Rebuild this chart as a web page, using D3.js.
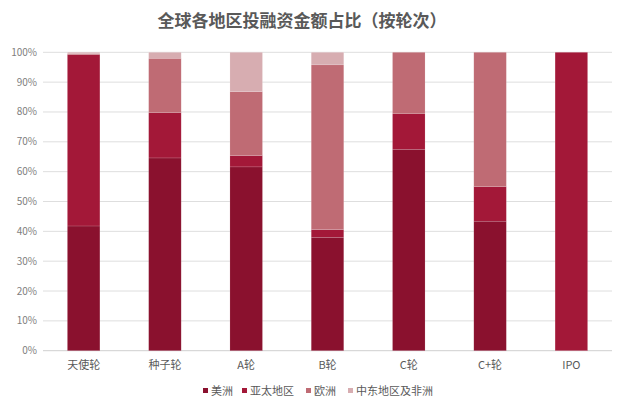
<!DOCTYPE html>
<html><head><meta charset="utf-8">
<script src="https://cdn.jsdelivr.net/npm/d3@7"></script>
<style>body{margin:0;background:#fff}svg{display:block}</style>
</head><body>
<svg id="c" width="640" height="413"></svg>
<script>
const categories = ["天使轮","种子轮","A轮","B轮","C轮","C+轮","IPO"];
const seriesNames = ["美洲","亚太地区","欧洲","中东地区及非洲"];
const americas = [41.8, 64.6, 61.6, 38.0, 67.5, 43.4, 0];
const asiaPacific = [57.4, 15.2, 3.8, 2.6, 11.9, 11.6, 100];
const europe = [0.3, 18.2, 21.4, 55.2, 20.6, 45.0, 0];
const middleEastAfrica = [0.5, 2.0, 13.2, 4.2, 0, 0, 0];
const yTicks = [0,10,20,30,40,50,60,70,80,90,100];
const colors = ["#8a112e","#a31838","#bf6b74","#d7adb1"];

const svg = d3.select("#c");
const font = "'Noto Sans CJK SC','Noto Sans',sans-serif";
const m = {l:43, r:28, t:52.3, b:62.3};
const W = 640, H = 413;
const x = d3.scaleBand().domain(categories).range([m.l, W-m.r]).paddingInner(0.6).paddingOuter(0.3);
const y = d3.scaleLinear().domain([0,100]).range([H-m.b, m.t]);

const table = categories.map((c,i)=>({cat:c, "美洲":americas[i], "亚太地区":asiaPacific[i], "欧洲":europe[i], "中东地区及非洲":middleEastAfrica[i]}));
const stack = d3.stack().keys(seriesNames)(table);

// grid
svg.append("g").selectAll("line").data(yTicks).join("line")
  .attr("x1", m.l).attr("x2", W-m.r)
  .attr("y1", d=>y(d)).attr("y2", d=>y(d))
  .attr("stroke", d=>d===0?"#cfcfcf":"#dedede").attr("stroke-width", 1);

// y labels
svg.append("g").selectAll("text").data(yTicks).join("text")
  .attr("x", 37).attr("y", d=>y(d)).attr("dy","0.35em")
  .attr("text-anchor","end").attr("font-family",font).attr("font-size",10)
  .attr("fill","#808080").text(d=>d+"%");

// bars
svg.append("g").selectAll("g").data(stack).join("g")
  .attr("fill",(d,i)=>colors[i])
  .selectAll("rect").data(d=>d).join("rect")
  .attr("x", d=>x(d.data.cat)).attr("width", x.bandwidth())
  .attr("y", d=>y(d[1])).attr("height", d=>Math.max(0, y(d[0])-y(d[1])))
  .attr("stroke","rgba(255,255,255,0.25)").attr("stroke-width",0.5);

// x labels
svg.append("g").selectAll("text").data(categories).join("text")
  .attr("x", d=>x(d)+x.bandwidth()/2).attr("y", 369)
  .attr("text-anchor","middle").attr("font-family",font).attr("font-size",11)
  .attr("fill","#595959").text(d=>d);

// title
svg.append("text").attr("x", 302).attr("y", 27).attr("text-anchor","middle")
  .attr("font-family",font).attr("font-size",17).attr("font-weight","bold")
  .attr("fill","#595959").text("全球各地区投融资金额占比（按轮次）");

// legend
const lx = [203, 242, 306, 348];
const lg = svg.append("g").selectAll("g").data(seriesNames).join("g")
  .attr("transform",(d,i)=>`translate(${lx[i]},391)`);
lg.append("rect").attr("x",0).attr("y",-3).attr("width",5).attr("height",5).attr("fill",(d,i)=>colors[i]);
lg.append("text").attr("x",8).attr("y",0).attr("dy","0.35em").attr("font-family",font)
  .attr("font-size",11).attr("fill","#595959").text(d=>d);
</script>
</body></html>
